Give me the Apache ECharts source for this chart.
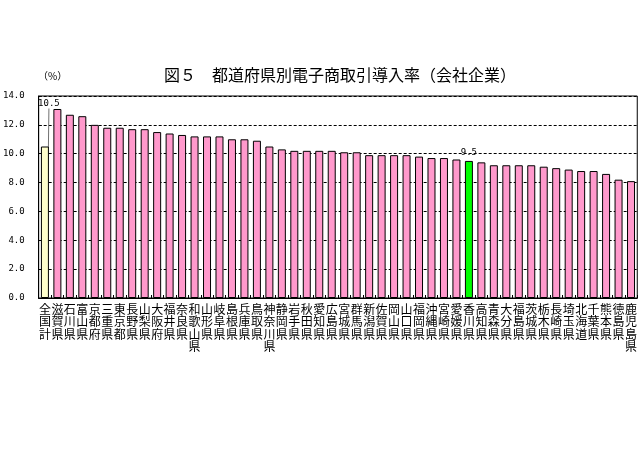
<!DOCTYPE html>
<html>
<head>
<meta charset="utf-8">
<script src="https://cdn.jsdelivr.net/npm/echarts@6/dist/echarts.min.js"></script>
<style>
  html, body { margin: 0; padding: 0; background: #fff; }
  #main { width: 640px; height: 460px; }
</style>
</head>
<body>
<div id="main"></div>
<script>
// 都道府県（全国計を先頭に、導入率の高い順）
var prefectures = ['全国計', '滋賀県', '石川県', '富山県', '京都府', '三重県', '東京都', '長野県',
  '山梨県', '大阪府', '福井県', '奈良県', '和歌山県', '山形県', '岐阜県', '島根県', '兵庫県',
  '鳥取県', '神奈川県', '静岡県', '岩手県', '秋田県', '愛知県', '広島県', '宮城県', '群馬県',
  '新潟県', '佐賀県', '岡山県', '山口県', '福岡県', '沖縄県', '宮崎県', '愛媛県', '香川県',
  '高知県', '青森県', '大分県', '福島県', '茨城県', '栃木県', '長崎県', '埼玉県', '北海道',
  '千葉県', '熊本県', '徳島県', '鹿児島県'];
// 電子商取引導入率（%）
var rates = [10.5, 13.1, 12.7, 12.6, 12.0, 11.8, 11.8, 11.7,
  11.7, 11.5, 11.4, 11.3, 11.2, 11.2, 11.2, 11.0, 11.0,
  10.9, 10.5, 10.3, 10.2, 10.2, 10.2, 10.2, 10.1, 10.1,
  9.9, 9.9, 9.9, 9.9, 9.8, 9.7, 9.7, 9.6, 9.5,
  9.4, 9.2, 9.2, 9.2, 9.2, 9.1, 9.0, 8.9, 8.8,
  8.8, 8.6, 8.2, 8.1];
var yTicks = [0, 2, 4, 6, 8, 10, 12, 14];
var totalName = '全国計';
var highlightName = '香川県';

var myChart = echarts.init(document.getElementById('main'));

var barData = prefectures.map(function (name, i) {
  var item = { value: rates[i] };
  if (name === totalName) {
    item.itemStyle = { color: '#FFFFCC' };
    item.label = { show: true };
  } else if (name === highlightName) {
    item.itemStyle = { color: '#00FF00' };
    item.label = { show: true };
    item.labelLine = { show: false };
  }
  return item;
});

myChart.setOption({
  animation: false,
  title: [{
    text: '図５　都道府県別電子商取引導入率（会社企業）',
    left: 164,
    top: 67,
    padding: 0,
    textStyle: { fontFamily: 'Noto Sans CJK JP', fontSize: 16, fontWeight: 'normal', color: '#000' }
  }, {
    text: '（%）',
    left: 38,
    top: 71,
    padding: 0,
    textStyle: { fontFamily: 'Noto Sans CJK JP', fontSize: 10, fontWeight: 'normal', color: '#000' }
  }],
  grid: {
    left: 37, right: 2, top: 96, bottom: 162,
    show: true, borderColor: '#000', borderWidth: 1
  },
  xAxis: {
    type: 'category',
    data: prefectures,
    axisLine: { lineStyle: { color: '#000', width: 1 } },
    axisTick: { show: true, inside: true, length: 3, lineStyle: { color: '#000' } },
    axisLabel: {
      interval: 0,
      margin: 5,
      color: '#000',
      fontFamily: 'Noto Sans CJK JP',
      fontSize: 12,
      lineHeight: 12.5,
      verticalAlign: 'top',
      formatter: function (v) { return v.split('').join('\n'); }
    }
  },
  yAxis: {
    type: 'value',
    min: yTicks[0],
    max: yTicks[yTicks.length - 1],
    interval: 2,
    axisLine: { show: true, lineStyle: { color: '#000', width: 1 } },
    axisTick: { show: true, inside: true, length: 3, lineStyle: { color: '#000' } },
    splitLine: { show: true, lineStyle: { color: '#000', type: [3, 2], width: 1 } },
    axisLabel: {
      margin: 14,
      color: '#000',
      fontFamily: 'DejaVu Sans Mono',
      fontSize: 9,
      formatter: function (v) { return v.toFixed(1); }
    }
  },
  series: [{
    type: 'bar',
    data: barData,
    barWidth: 8,
    itemStyle: { color: '#FF99CC', borderColor: '#000', borderWidth: 1 },
    label: {
      show: false,
      position: 'top',
      distance: 4,
      color: '#000',
      fontFamily: 'DejaVu Sans Mono',
      fontSize: 9,
      formatter: function (p) { return p.value.toFixed(1); }
    },
    labelLine: { show: true, lineStyle: { color: '#707070', width: 1 } },
    labelLayout: function (params) {
      if (params.dataIndex === 0) {
        return { dx: 4, dy: -34 };
      }
      return {};
    }
  }]
});
</script>
</body>
</html>
